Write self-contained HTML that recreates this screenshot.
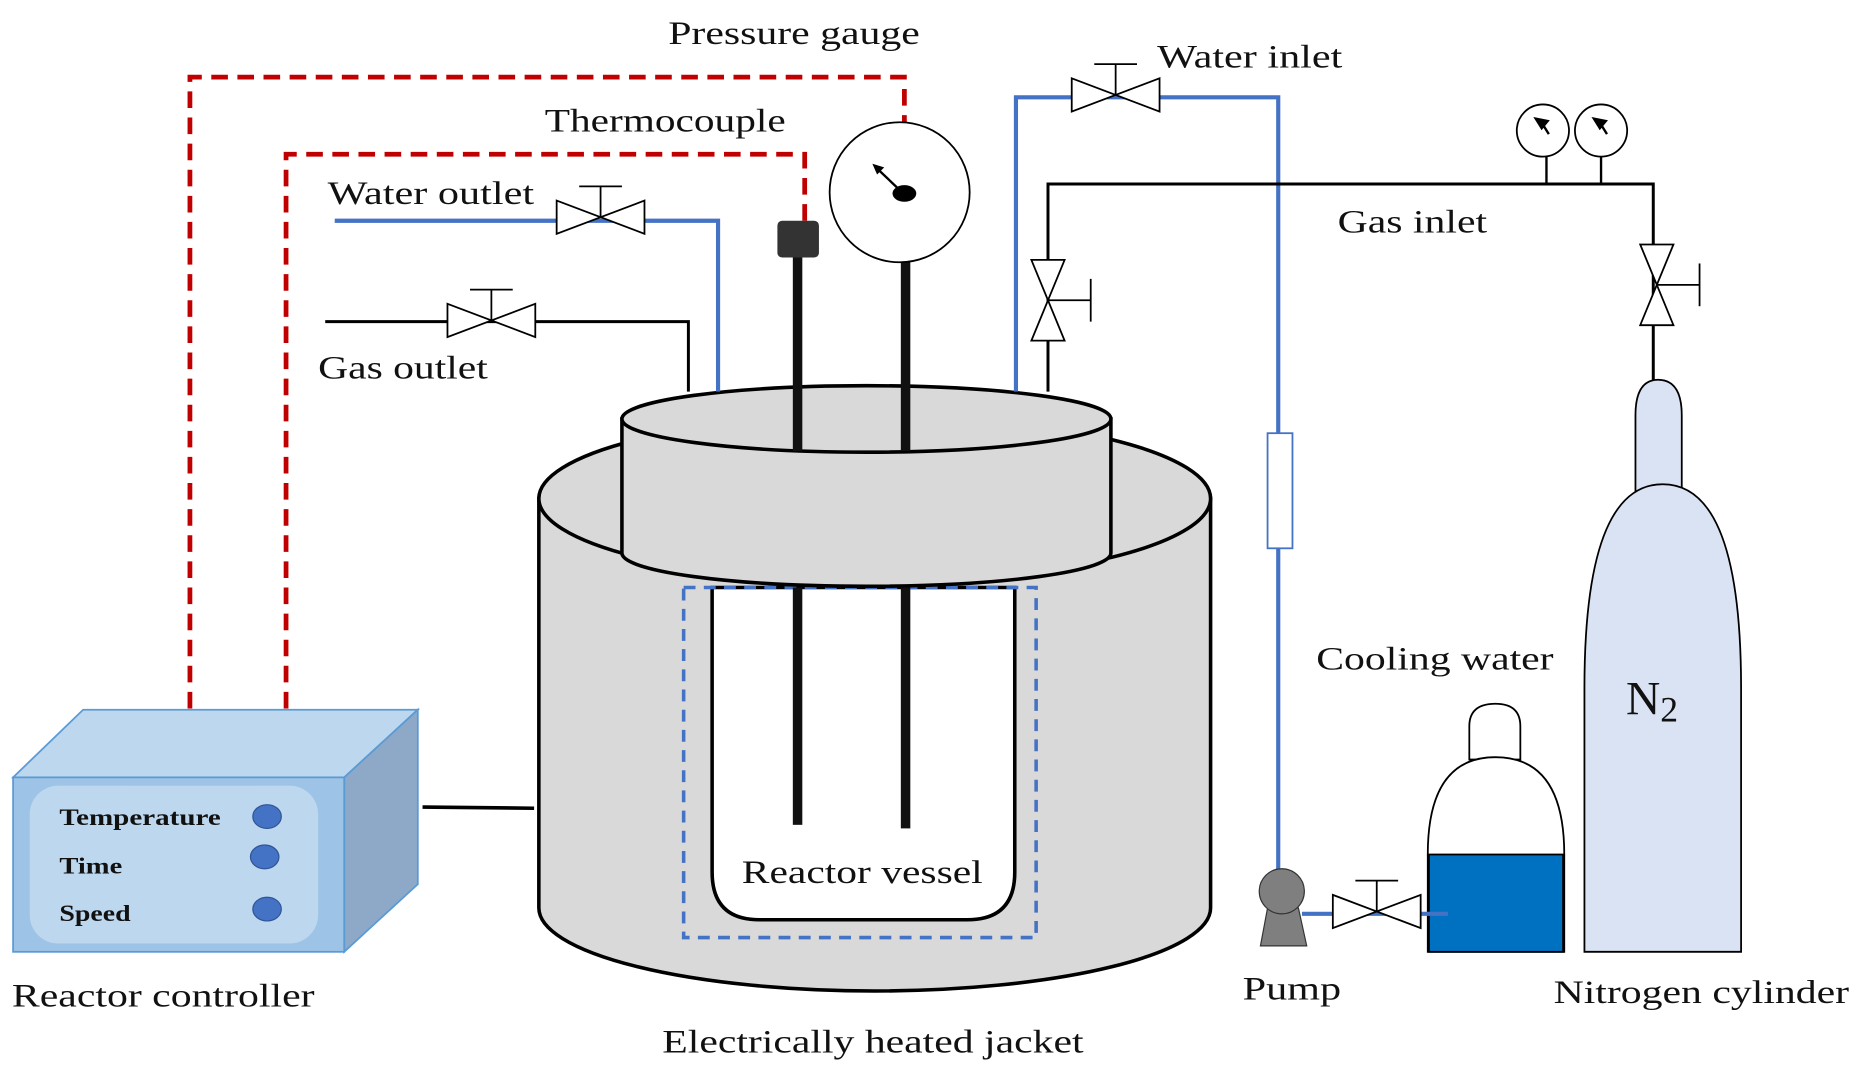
<!DOCTYPE html>
<html><head><meta charset="utf-8"><style>
html,body{margin:0;padding:0;background:#fff;}
svg{display:block}
text{font-family:"Liberation Serif",serif;fill:#111;}
</style></head><body>
<svg width="1861" height="1080" viewBox="0 0 1568 910" xmlns="http://www.w3.org/2000/svg">
<defs>
<g id="valveH"><path d="M-37,-14 L37,14 L37,-14 L-37,14 Z" fill="#fff" stroke="#000" stroke-width="1.5"/><line x1="0" y1="0" x2="0" y2="-26" stroke="#000" stroke-width="1.5"/><line x1="-18" y1="-26" x2="18" y2="-26" stroke="#000" stroke-width="1.5"/></g>
<g id="valveV"><path d="M-14,-34 L14,34 L-14,34 L14,-34 Z" fill="#fff" stroke="#000" stroke-width="1.5"/><line x1="0" y1="0" x2="36" y2="0" stroke="#000" stroke-width="1.5"/><line x1="36" y1="-18" x2="36" y2="18" stroke="#000" stroke-width="1.5"/></g>
</defs>
<path d="M160,597 V65 H762 V112" fill="none" stroke="#c00000" stroke-width="4" stroke-dasharray="14,8"/>
<path d="M241,597 V130 H678 V186" fill="none" stroke="#c00000" stroke-width="4" stroke-dasharray="14,8"/>
<path d="M454,420 V765 A283,70 0 0 0 1020,765 V420 Z" fill="#d9d9d9" stroke="#000" stroke-width="3"/>
<ellipse cx="737" cy="420" rx="283" ry="70" fill="#d9d9d9" stroke="#000" stroke-width="3"/>
<path d="M600,495 V735 Q600,775 640,775 H815 Q855,775 855,735 V495 Z" fill="#fff" stroke="#000" stroke-width="3"/>
<rect x="576" y="495" width="297" height="295" fill="none" stroke="#4472c4" stroke-width="3" stroke-dasharray="10,7"/>
<path d="M524,353 V466 A206,28 0 0 0 936,466 V353 Z" fill="#d9d9d9" stroke="#000" stroke-width="3"/>
<ellipse cx="730" cy="353" rx="206" ry="28" fill="#d9d9d9" stroke="#000" stroke-width="3"/>
<rect x="668" y="215" width="8" height="165" fill="#111"/><rect x="668" y="495" width="8" height="200" fill="#111"/>
<rect x="759" y="212" width="8" height="168" fill="#111"/><rect x="759" y="495" width="8" height="203" fill="#111"/>
<rect x="655" y="186" width="35" height="31" rx="4" fill="#333"/>
<circle cx="758" cy="162" r="59" fill="#fff" stroke="#000" stroke-width="1.5"/>
<line x1="738" y1="141" x2="760" y2="162" stroke="#000" stroke-width="2"/><path d="M735,138 l10,3 l-6,6 z" fill="#000"/>
<ellipse cx="762" cy="163" rx="10" ry="7" fill="#000"/>
<path d="M282,186 H605 V330" fill="none" stroke="#4472c4" stroke-width="3.5"/>
<use href="#valveH" x="506" y="183"/>
<path d="M274,271 H580 V330" fill="none" stroke="#000" stroke-width="2.5"/>
<use href="#valveH" x="414" y="270"/>
<path d="M856,330 V82 H1077 V365 M1077,462 V735" fill="none" stroke="#4472c4" stroke-width="3.5"/>
<use href="#valveH" x="940" y="80"/>
<rect x="1068" y="365" width="21" height="97" fill="#fff" stroke="#4472c4" stroke-width="1.5"/>
<path d="M883,330 V155 H1393 V320" fill="none" stroke="#000" stroke-width="2.5"/>
<use href="#valveV" x="883" y="253"/>
<use href="#valveV" x="1396" y="240"/>
<line x1="1303" y1="130" x2="1303" y2="155" stroke="#000" stroke-width="2"/><line x1="1349" y1="130" x2="1349" y2="155" stroke="#000" stroke-width="2"/>
<circle cx="1300" cy="110" r="22" fill="#fff" stroke="#000" stroke-width="1.5"/><circle cx="1349" cy="110" r="22" fill="#fff" stroke="#000" stroke-width="1.5"/>
<path d="M1294,100 l10,2 l-5,6 z M1300,105 l5,8" stroke="#000" stroke-width="2" fill="#000"/>
<path d="M1343,100 l10,2 l-5,6 z M1349,105 l5,8" stroke="#000" stroke-width="2" fill="#000"/>
<path d="M1378,415 V350 Q1378,320 1397,320 Q1417,320 1417,350 V415 Z" fill="#dae3f3" stroke="#000" stroke-width="1.5"/>
<path d="M1335,802 V580 Q1335,408 1401,408 Q1467,408 1467,580 V802 Z" fill="#dae3f3" stroke="#000" stroke-width="1.5"/>
<text x="1370" y="602" font-size="40">N<tspan font-size="30" dy="6">2</tspan></text>
<path d="M1238,640 V612 Q1238,593 1260,593 Q1281,593 1281,612 V640 Z" fill="#fff" stroke="#000" stroke-width="1.5"/>
<path d="M1203,802 V720 Q1203,638 1260,638 Q1318,638 1318,720 V802 Z" fill="#fff" stroke="#000" stroke-width="1.5"/>
<rect x="1204" y="720" width="113" height="82" fill="#0070c0" stroke="#000" stroke-width="1.5"/>
<path d="M1097,770 H1220" stroke="#4472c4" stroke-width="3.5"/>
<use href="#valveH" x="1160" y="768"/>
<path d="M1068,765 H1094 L1101,797 H1062 Z" fill="#7f7f7f" stroke="#333"/>
<circle cx="1080" cy="751" r="19" fill="#7f7f7f" stroke="#333"/>
<line x1="356" y1="680" x2="450" y2="681" stroke="#000" stroke-width="3"/>
<path d="M11,655 L70,598 H352 L290,655 Z" fill="#bdd7ee" stroke="#5b9bd5" stroke-width="1.5"/>
<path d="M290,655 L352,598 V745 L290,802 Z" fill="#8ea9c8" stroke="#5b9bd5" stroke-width="1.5"/>
<rect x="11" y="655" width="279" height="147" fill="#9dc3e6" stroke="#5b9bd5" stroke-width="1.5"/>
<rect x="25" y="662" width="243" height="133" rx="24" fill="#bdd7ee"/>
<g font-weight="bold" font-size="20"><text x="50" y="695" textLength="136" lengthAdjust="spacingAndGlyphs">Temperature</text><text x="50" y="736" textLength="53" lengthAdjust="spacingAndGlyphs">Time</text><text x="50" y="776" textLength="60" lengthAdjust="spacingAndGlyphs">Speed</text></g>
<g fill="#4472c4" stroke="#2f5597"><ellipse cx="225" cy="688" rx="12" ry="10"/><ellipse cx="223" cy="722" rx="12" ry="10"/><ellipse cx="225" cy="766" rx="12" ry="10"/></g>
<g font-size="28" lengthAdjust="spacingAndGlyphs">
<text x="563" y="37" textLength="212" lengthAdjust="spacingAndGlyphs">Pressure gauge</text>
<text x="459" y="111" textLength="203" lengthAdjust="spacingAndGlyphs">Thermocouple</text>
<text x="276" y="172" textLength="174" lengthAdjust="spacingAndGlyphs">Water outlet</text>
<text x="268" y="319" textLength="143" lengthAdjust="spacingAndGlyphs">Gas outlet</text>
<text x="975" y="57" textLength="156" lengthAdjust="spacingAndGlyphs">Water inlet</text>
<text x="1127" y="196" textLength="126" lengthAdjust="spacingAndGlyphs">Gas inlet</text>
<text x="1109" y="564" textLength="200" lengthAdjust="spacingAndGlyphs">Cooling water</text>
<text x="625" y="744" textLength="203" lengthAdjust="spacingAndGlyphs">Reactor vessel</text>
<text x="10" y="848" textLength="255" lengthAdjust="spacingAndGlyphs">Reactor controller</text>
<text x="1047" y="842" textLength="83" lengthAdjust="spacingAndGlyphs">Pump</text>
<text x="1309" y="845" textLength="249" lengthAdjust="spacingAndGlyphs">Nitrogen cylinder</text>
<text x="558" y="887" textLength="355" lengthAdjust="spacingAndGlyphs">Electrically heated jacket</text>
</g>
</svg>
</body></html>
